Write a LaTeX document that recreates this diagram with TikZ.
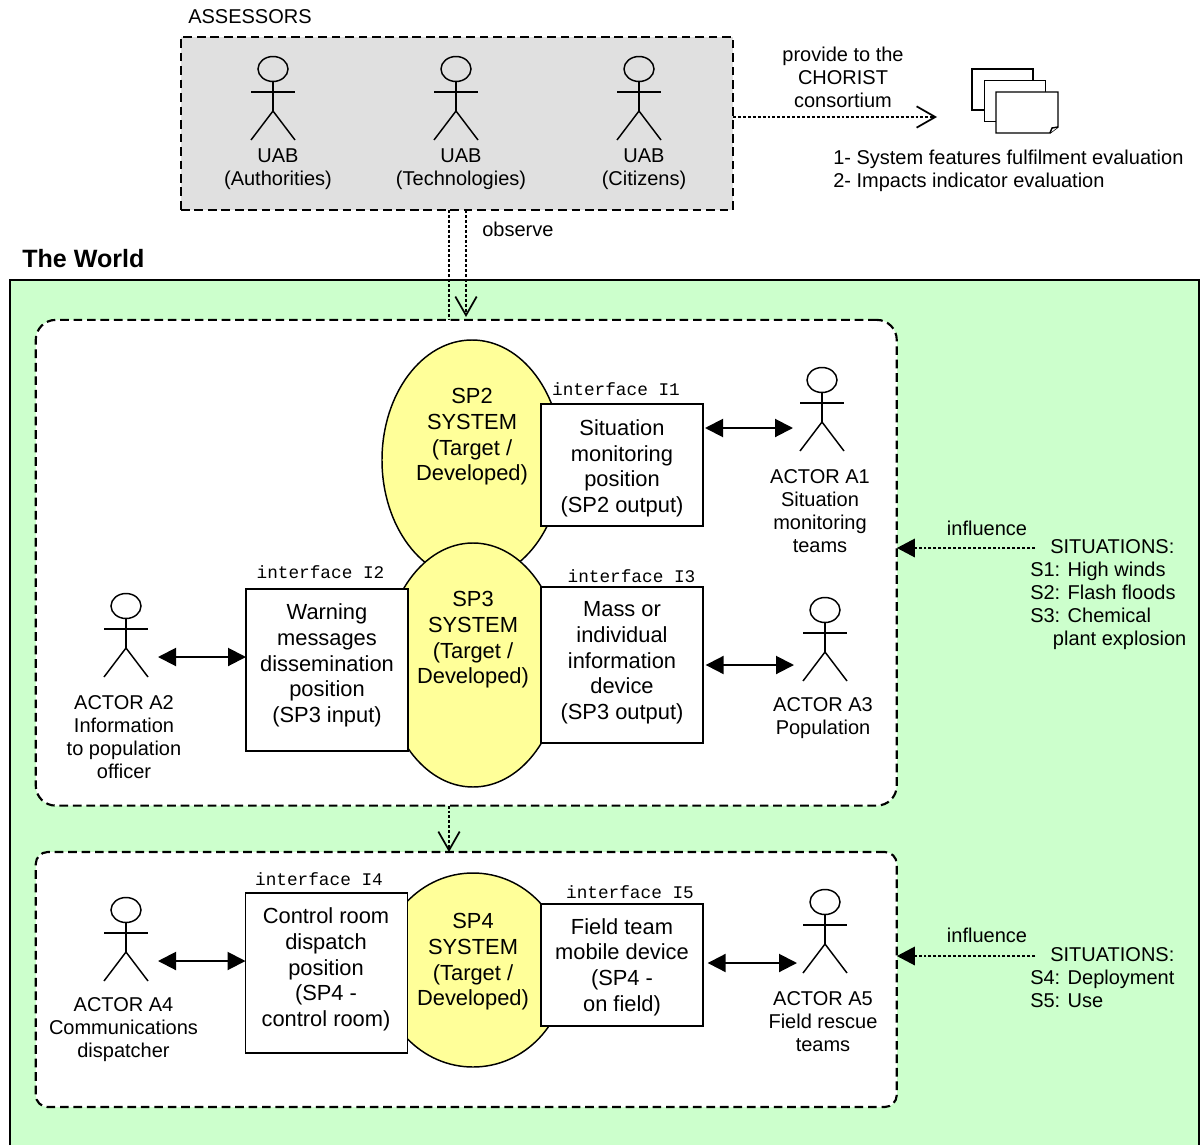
\documentclass[tikz,border=0pt]{standalone}
\usepackage{fontspec}
\setmainfont{Liberation Sans}
\setmonofont{Liberation Mono}
\usetikzlibrary{arrows.meta,shapes.geometric}
\definecolor{assessgrey}{HTML}{E0E0E0}
\definecolor{worldgreen}{HTML}{CCFFCC}
\definecolor{sysyellow}{HTML}{FFFF99}
\tikzset{
	txt/.style={inner sep=0pt,align=center,font=\fontsize{15pt}{17.25pt}\selectfont},
	bigtxt/.style={inner sep=0pt,align=center,font=\fontsize{16.4pt}{19.25pt}\selectfont},
	iftxt/.style={inner sep=0pt,font=\fontsize{13.3pt}{16pt}\selectfont\ttfamily},
	line/.style={line width=1.1pt},
	groupbox/.style={draw,line width=1.6pt,dash pattern=on 6.5pt off 3.6pt,outer sep=0pt,inner sep=0pt},
	posbox/.style={draw,line,fill=white,outer sep=0pt,inner sep=0pt,minimum width=121.5pt},
	sysell/.style={draw,line,fill=sysyellow,ellipse,inner sep=0pt,outer sep=0pt},
	page/.style={draw,line,fill=white,minimum width=46pt,minimum height=31pt,inner sep=0pt,outer sep=0pt},
	dots/.style={line width=2.2pt,dash pattern=on 2.2pt off 1.5pt},
	openhead/.style={-{Straight Barb[length=14pt,width=16pt,line width=1.3pt]}},
	fullhead/.style={-{Triangle[length=13.5pt,width=13.5pt]}},
	both/.style={line width=1.5pt,{Triangle[length=13.5pt,width=13.5pt]}-{Triangle[length=13.5pt,width=13.5pt]}},
	actor/.pic={
		\draw[line] (0,0) ellipse (15 and 12.5);
		\draw[line] (0,12.5) -- (0,42);
		\draw[line] (-22,23) -- (22,23);
		\draw[line] (-22,71) -- (0,42) -- (22,71);
	}
}
\begin{document}
\begin{tikzpicture}[x=0.75pt,y=-0.75pt]
	\useasboundingbox (0,0) rectangle (1202,1145);
	\fill[worldgreen] (10,280) rectangle (1199,1145);
	\draw[line] (10,1145) -- (10,280) -- (1199,280) -- (1199,1145);
	\node[anchor=west,inner sep=0pt,font=\fontsize{18.8pt}{20pt}\selectfont\bfseries] (world) at (22,259) {The World};

	\node[anchor=west,txt] (asstitle) at (188,17) {ASSESSORS};
	\node[groupbox,fill=assessgrey,minimum width=414pt,minimum height=129.75pt] (assessors) at (457,123.5) {};
	\pic at (273,69) {actor};
	\pic at (456,69) {actor};
	\pic at (639,69) {actor};
	\node[txt] (uab1) at (278,169.5) {UAB\\(Authorities)};
	\node[txt] (uab2) at (461,169.5) {UAB\\(Technologies)};
	\node[txt] (uab3) at (644,169.5) {UAB\\(Citizens)};

	\node[txt] (provide) at (843,77) {provide to the\\CHORIST\\consortium};
	\coordinate (prov) at (937,117);
	\draw[dots,openhead] (assessors.east |- prov) -- (prov);
	\node[page] (page1) at (1002.5,89.5) {};
	\node[page] (page2) at (1015,101) {};
	\draw[line,fill=white] (996,92) -- (1058,92) -- (1058,127) -- (1050,133) -- (996,133) -- cycle;
	\draw[line,fill=white] (1050,133) -- (1052,128) -- (1058,127);
	\node[txt,align=left,anchor=west] (report) at (833,171) {1- System features fulfilment evaluation\\2- Impacts indicator evaluation};

	\node[groupbox,rounded corners=15pt,fill=white,minimum width=645.75pt,minimum height=364.3pt] (sysa) at (466.25,562.75) {};
	\node[groupbox,rounded corners=9pt,fill=white,minimum width=645.75pt,minimum height=191.25pt] (sysb) at (466.25,979.5) {};

	\coordinate (obsl) at (449,320);
	\coordinate (obsr) at (466,317);
	\draw[dots] (assessors.south -| obsl) -- (obsl);
	\draw[dots,openhead] (assessors.south -| obsr) -- (obsr);
	\node[anchor=west,txt] (observe) at (482,229) {observe};
	\draw[dots,openhead] (sysa.south -| obsl) -- (sysb.north -| obsl);

	\node[sysell,minimum width=180*0.75pt,minimum height=240*0.75pt] (sp2) at (472,460) {};
	\node[sysell,minimum width=178*0.75pt,minimum height=244*0.75pt] (sp3) at (473,665) {};
	\node[sysell,minimum width=186*0.75pt,minimum height=194*0.75pt] (sp4) at (473,970) {};
	\node[bigtxt] (sp2t) at (472,437) {SP2\\SYSTEM\\(Target /\\Developed)};
	\node[bigtxt] (sp3t) at (473,640) {SP3\\SYSTEM\\(Target /\\Developed)};
	\node[bigtxt] (sp4t) at (473,962) {SP4\\SYSTEM\\(Target /\\Developed)};

	\node[posbox,minimum height=91.5pt] (i1) at (622,465) {};
	\node[posbox,minimum height=121.5pt] (i2) at (327,670) {};
	\node[posbox,minimum height=117pt] (i3) at (622,665) {};
	\node[posbox,minimum height=120pt] (i4) at (326.5,973) {};
	\node[posbox,minimum height=91.5pt] (i5) at (622,965) {};
	\node[bigtxt] (i1t) at (622,468.5) {Situation\\monitoring\\position\\(SP2 output)};
	\node[bigtxt] (i2t) at (327,665.5) {Warning\\messages\\dissemination\\position\\(SP3 input)};
	\node[bigtxt] (i3t) at (622,663) {Mass or\\individual\\information\\device\\(SP3 output)};
	\node[bigtxt] (i4t) at (326,969.5) {Control room\\dispatch\\position\\(SP4 -\\control room)};
	\node[bigtxt] (i5t) at (622,967) {Field team\\mobile device\\(SP4 -\\on field)};
	\node[iftxt] (i1l) at (616,389) {interface I1};
	\node[iftxt] (i2l) at (320.5,572) {interface I2};
	\node[iftxt] (i3l) at (631.5,576) {interface I3};
	\node[iftxt] (i4l) at (319,879) {interface I4};
	\node[iftxt] (i5l) at (630,892) {interface I5};

	\pic at (822,380) {actor};
	\pic at (126,606) {actor};
	\pic at (825,610) {actor};
	\pic at (126,910) {actor};
	\pic at (825,902) {actor};
	\node[txt] (a1t) at (820,511) {ACTOR A1\\Situation\\monitoring\\teams};
	\node[txt] (a2t) at (124,737) {ACTOR A2\\Information\\to population\\officer};
	\node[txt] (a3t) at (823,718.5) {ACTOR A3\\Population};
	\node[txt] (a4t) at (123.5,1030) {ACTOR A4\\Communications\\dispatcher};
	\node[txt] (a5t) at (823,1021.5) {ACTOR A5\\Field rescue\\teams};

	\coordinate (a1) at (793,428);
	\coordinate (a2) at (158,657);
	\coordinate (a3) at (794,665);
	\coordinate (a4) at (158,961);
	\coordinate (a5) at (797,963);
	\draw[both,shorten <=1.5pt] (i1.east |- a1) -- (a1);
	\draw[both] (a2) -- (i2.west |- a2);
	\draw[both,shorten <=2pt] (i3.east |- a3) -- (a3);
	\draw[both] (a4) -- (i4.west |- a4);
	\draw[both,shorten <=3.5pt] (i5.east |- a5) -- (a5);

	\node[txt] (infl1) at (987,528) {influence};
	\node[txt] (infl2) at (987,935) {influence};
	\node[txt,align=left,anchor=west] (sits1) at (1030,595) {\hspace*{15pt}SITUATIONS:\\S1: High winds\\S2: Flash floods\\S3: Chemical\\\hspace*{17pt}plant explosion};
	\node[txt,align=left,anchor=west] (sits2) at (1030,978) {\hspace*{15pt}SITUATIONS:\\S4: Deployment\\S5: Use};
	\coordinate (from1) at (1035,548);
	\coordinate (from2) at (1035,956);
	\draw[dots,fullhead] (from1) -- (sysa.east |- from1);
	\draw[dots,fullhead] (from2) -- (sysb.east |- from2);
\end{tikzpicture}
\end{document}
